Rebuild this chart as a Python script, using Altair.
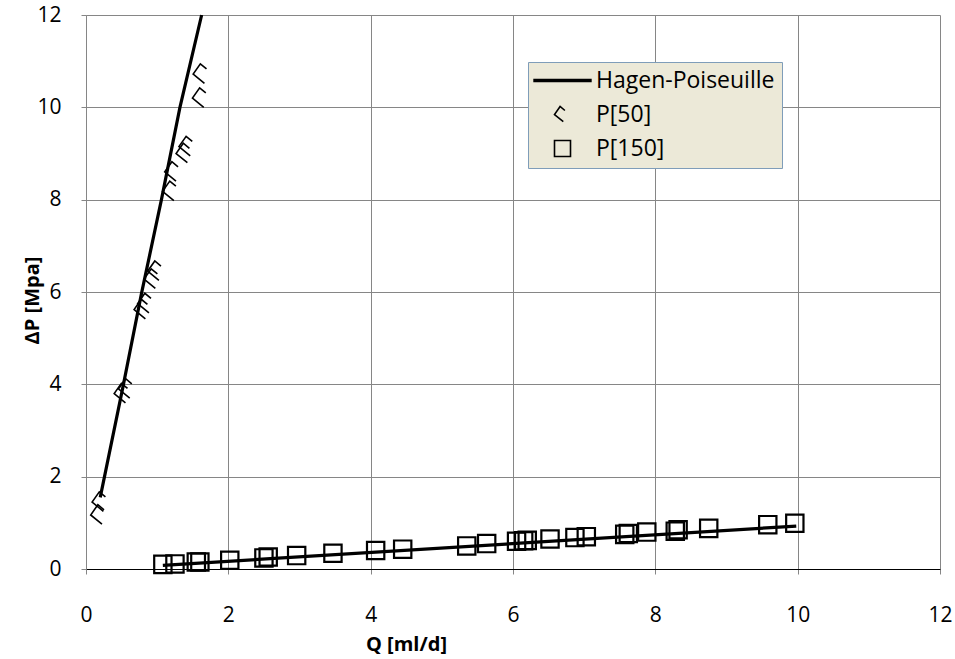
import altair as alt
import pandas as pd

# ---- data ----
q50 = [0.21, 0.23, 0.54, 0.60, 0.82, 0.87, 0.96, 1.01, 1.22, 1.25, 1.41, 1.45, 1.64, 1.65]
dp50 = [1.17, 1.45, 3.80, 3.90, 5.62, 5.75, 6.28, 6.45, 8.18, 8.60, 9.00, 9.15, 10.20, 10.72]

q150 = [1.08, 1.25, 1.55, 1.60, 2.02, 2.50, 2.56, 2.96, 3.47, 4.07, 4.45, 5.35, 5.63,
        6.05, 6.15, 6.20, 6.52, 6.87, 7.03, 7.57, 7.62, 7.88, 8.28, 8.32, 8.75, 9.58, 9.96]
dp150 = [0.10, 0.11, 0.15, 0.15, 0.19, 0.24, 0.26, 0.29, 0.34, 0.40, 0.43, 0.50, 0.55,
         0.60, 0.61, 0.62, 0.65, 0.68, 0.70, 0.75, 0.77, 0.80, 0.82, 0.85, 0.88, 0.96, 0.99]

hp50_q = [0.20, 0.52, 0.78, 1.06, 1.32, 1.625]
hp50_dp = [1.55, 3.95, 5.97, 8.00, 10.00, 12.00]
hp150_q = [1.08, 9.98]
hp150_dp = [0.08, 0.93]

series_names = ["Hagen-Poiseuille", "P[50]", "P[150]"]
x_ticks = [0, 2, 4, 6, 8, 10, 12]
y_ticks = [0, 2, 4, 6, 8, 10, 12]

pts50 = pd.DataFrame({"Q": q50, "dP": dp50, "series": ["P[50]"] * len(q50)})
pts150 = pd.DataFrame({"Q": q150, "dP": dp150, "series": ["P[150]"] * len(q150)})
lines = pd.DataFrame({
    "Q": hp50_q + hp150_q,
    "dP": hp50_dp + hp150_dp,
    "curve": ["HP50"] * len(hp50_q) + ["HP150"] * len(hp150_q),
})

LINE_PATH = "M -3.65 -0.11 L 3.65 -0.11 M -3.65 0 L 3.65 0 M -3.65 0.11 L 3.65 0.11"
CHEVRON = "M 0.3 -0.5 L -0.3 -1 L -1 0 L 0.1 0.9"

FONT = "Open Sans"
GRID = "#868686"

xscale = alt.Scale(domain=[0, 12], nice=False, zero=True)
yscale = alt.Scale(domain=[0, 12], nice=False, zero=True)
shape_scale = alt.Scale(domain=series_names, range=[LINE_PATH, CHEVRON, "square"])

xaxis = alt.Axis(
    values=x_ticks, format="d", grid=True, gridColor=GRID, gridWidth=1,
    domainColor="black", domainWidth=1, tickColor=GRID, tickSize=5,
    labelFont=FONT, labelFontSize=21, labelColor="black", labelPadding=30,
    labelFlush=False, labelOverlap=False,
    title="Q [ml/d]", titleFont=FONT, titleFontSize=20, titleFontWeight="bold",
    titleColor="black", titleX=320, titleY=75, titleAlign="center",
    titleBaseline="middle",
)
yaxis = alt.Axis(
    values=y_ticks, format="d", grid=True, gridColor=GRID, gridWidth=1,
    domainColor=GRID, domainWidth=1, tickColor=GRID, tickSize=5,
    labelFont=FONT, labelFontSize=21, labelColor="black", labelPadding=20,
    labelFlush=False, labelOverlap=False,
    title="ΔP [Mpa]", titleFont=FONT, titleFontSize=20, titleFontWeight="bold",
    titleColor="black", titleX=-54, titleY=285, titleAngle=270,
    titleAlign="center", titleBaseline="middle",
)

line_layer = alt.Chart(lines).mark_line(color="black", strokeWidth=3.2).encode(
    x=alt.X("Q:Q", scale=xscale, axis=xaxis),
    y=alt.Y("dP:Q", scale=yscale, axis=yaxis),
    detail="curve:N",
)

legend = alt.Legend(
    title=None, orient="none", legendX=442, legendY=47,
    fillColor="#ECE9D8", strokeColor="#7F9DB9", padding=7,
    labelFont=FONT, labelFontSize=23, labelColor="black", labelLimit=400,
    symbolOffset=16, labelOffset=22, rowPadding=10,
    symbolStrokeColor="black", symbolFillColor="transparent",
    symbolStrokeWidth=1.6, symbolSize=256,
)

p50_layer = alt.Chart(pts50).mark_point(
    filled=False, size=420, strokeWidth=1.6, color="black", opacity=1
).encode(
    x=alt.X("Q:Q", scale=xscale),
    y=alt.Y("dP:Q", scale=yscale),
    shape=alt.Shape("series:N", scale=shape_scale, legend=legend),
)

p150_layer = alt.Chart(pts150).mark_point(
    filled=False, size=300, strokeWidth=2.2, color="black", opacity=1
).encode(
    x=alt.X("Q:Q", scale=xscale),
    y=alt.Y("dP:Q", scale=yscale),
    shape=alt.Shape("series:N", scale=shape_scale, legend=legend),
)

chart = alt.layer(line_layer, p50_layer, p150_layer).properties(
    width=854, height=554,
    autosize=alt.AutoSizeParams(type="none"),
    padding={"left": 86, "top": 15, "right": 15, "bottom": 90},
    background="white",
).configure_view(stroke=None)

chart.save("out.html", embed_options={"renderer": "svg", "actions": False})
